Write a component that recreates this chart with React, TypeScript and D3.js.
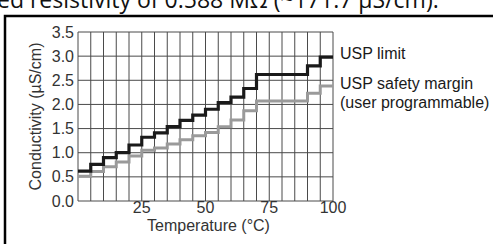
import React from 'react'
import * as d3 from 'd3'

// step starts, in °C (last point closes the final step)
const temps = [0, 5, 10, 15, 20, 25, 30, 35, 40, 45, 50, 55, 60, 65, 70, 75, 80, 85, 90, 95, 100]
// µS/cm
const uspLimit = [0.62, 0.76, 0.9, 1.0, 1.16, 1.32, 1.41, 1.54, 1.67, 1.78, 1.9, 2.04, 2.15, 2.33, 2.62, 2.62, 2.62, 2.62, 2.8, 2.98, 2.98]
const safetyMargin = [0.51, 0.61, 0.71, 0.81, 0.93, 1.05, 1.1, 1.18, 1.27, 1.35, 1.42, 1.54, 1.68, 1.87, 2.07, 2.07, 2.07, 2.07, 2.23, 2.38, 2.38]

const yTicks = [0, 0.5, 1, 1.5, 2, 2.5, 3, 3.5]
const xTicks = [25, 50, 75, 100]
const xGrid = d3.range(0, 101, 5)

const W = 493
const H = 244
const font = '"Liberation Sans", Arial, sans-serif'

export default function App() {
  const x = d3.scaleLinear().domain([0, 100]).range([78, 333])
  const y = d3.scaleLinear().domain([0, 3.5]).range([201, 32])

  const line = (vals: number[]) =>
    d3
      .line<number>()
      .x((_, i) => x(temps[i]))
      .y(d => y(d))
      .curve(d3.curveStepAfter)(vals) || ''

  return (
    <svg
      width={W}
      height={H}
      style={{ position: 'fixed', left: 0, top: 0, background: '#fff' }}
    >
      {/* clipped line of page text above the figure */}
      <text x={-3} y={8} fontFamily='"Open Sans", sans-serif' fontSize={23} fill="#111">
        ed resistivity of 0.588 MΩ (~171.7 µS/cm).
      </text>

      {/* figure frame */}
      <rect x={5} y={16} width={600} height={400} fill="none" stroke="#000" strokeWidth={2.5} />

      {/* grid */}
      <g stroke="#4a4a4a" strokeWidth={1}>
        {xGrid.map(t => (
          <line key={'v' + t} x1={x(t)} x2={x(t)} y1={y(0)} y2={y(3.5)} />
        ))}
        {yTicks.map(t => (
          <line key={'h' + t} x1={x(0)} x2={x(100)} y1={y(t)} y2={y(t)} />
        ))}
      </g>

      {/* series */}
      <path d={line(safetyMargin)} fill="none" stroke="#9a9a9a" strokeWidth={3} />
      <path d={line(uspLimit)} fill="none" stroke="#1a1a1a" strokeWidth={3.2} />

      {/* y axis labels */}
      <g fontFamily={font} fontSize={16} fill="#333" textAnchor="end">
        {yTicks.map(t => (
          <text key={t} x={74} y={y(t)} dy="0.35em">
            {d3.format('.1f')(t)}
          </text>
        ))}
      </g>
      <text
        transform={`translate(41,${(y(0) + y(3.5)) / 2}) rotate(-90)`}
        textAnchor="middle"
        fontFamily={font}
        fontSize={16}
        fill="#333"
      >
        Conductivity (µS/cm)
      </text>

      {/* x axis labels */}
      <g fontFamily={font} fontSize={16} fill="#333" textAnchor="middle">
        {xTicks.map(t => (
          <text key={t} x={x(t)} y={213}>
            {t}
          </text>
        ))}
      </g>
      <text x={x(50) + 3} y={231} textAnchor="middle" fontFamily={font} fontSize={16} fill="#333">
        Temperature (°C)
      </text>

      {/* labels */}
      <g fontFamily={font} fontSize={16} fill="#1a1a1a">
        <text x={340} y={59}>USP limit</text>
        <text x={340} y={89}>USP safety margin</text>
        <text x={340} y={108}>(user programmable)</text>
      </g>
    </svg>
  )
}
